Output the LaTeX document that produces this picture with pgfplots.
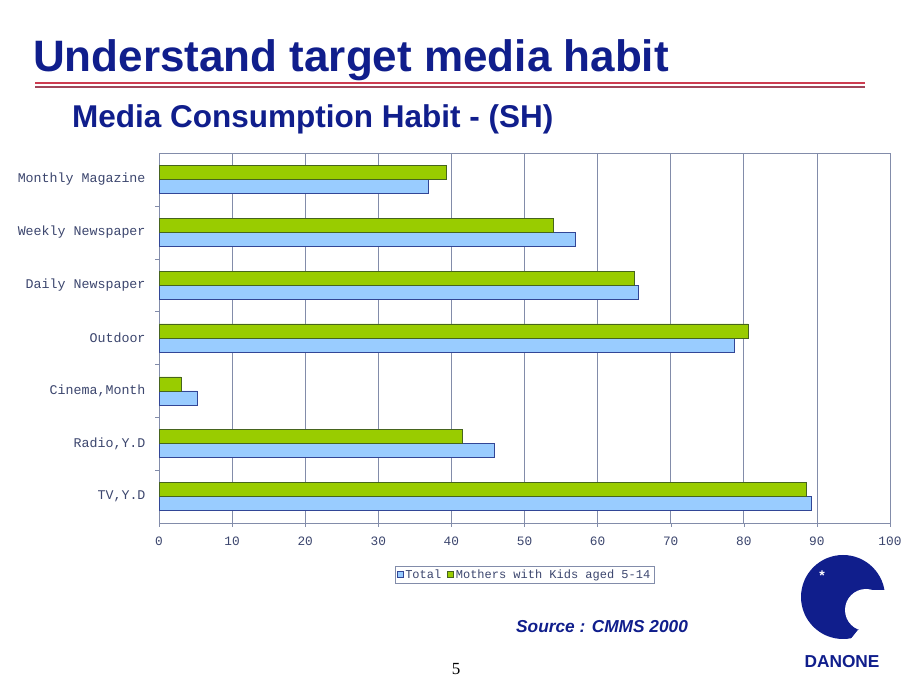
\documentclass[border=0pt]{standalone}
\usepackage{pgfplots}
\pgfplotsset{compat=1.18}
\usepackage{fontspec}
\setmainfont{Liberation Sans}
\newfontfamily\monof{Liberation Mono}
\newfontfamily\seriff{Liberation Serif}
\definecolor{navy}{RGB}{16,30,140}
\definecolor{gridc}{RGB}{130,140,170}
\definecolor{labc}{RGB}{60,70,110}
\definecolor{bluef}{RGB}{153,204,255}
\definecolor{bluee}{RGB}{50,70,150}
\definecolor{greenf}{RGB}{153,204,0}
\definecolor{greene}{RGB}{70,100,30}
\definecolor{redl}{RGB}{205,60,80}
\definecolor{redd}{RGB}{160,70,90}
\begin{document}
\begin{tikzpicture}[x=1pt,y=1pt]
\useasboundingbox (0,0) rectangle (920,690);
\fill[white] (0,0) rectangle (920,690);
% titles
\node[anchor=base west, inner sep=0pt, text=navy, font=\bfseries\fontsize{44}{44}\selectfont] at (33,618) {Understand target media habit};
\draw[redl, line width=1.3pt] (35,607) -- (865,607);
\draw[redd, line width=1.3pt] (35,603) -- (865,603);
\node[anchor=base west, inner sep=0pt, text=navy, font=\bfseries\fontsize{31.5}{32}\selectfont] at (72,562) {Media Consumption Habit - (SH)};
\begin{axis}[
  at={(159pt,167pt)}, anchor=south west,
  width=731pt, height=370pt, scale only axis,
  xmin=0, xmax=100, ymin=-0.5, ymax=6.5,
  xtick={0,10,...,100},
  ytick={0,...,6},
  yticklabels={{TV,Y.D},{Radio,Y.D},{Cinema,Month},{Outdoor},{Daily Newspaper},{Weekly Newspaper},{Monthly Magazine}},
  minor ytick={0.5,1.5,...,5.5},
  tick pos=left,
  every major y tick/.append style={draw=none},
  every minor y tick/.append style={gridc, thin},
  every major x tick/.append style={gridc, thin},
  minor tick length=4pt, major tick length=4pt,
  tick align=outside,
  xmajorgrids,
  grid style={gridc, line width=0.8pt},
  axis line style={gridc, line width=0.8pt},
  /pgf/number format/assume math mode=true,
  xticklabel style={font=\monof\fontsize{12.8}{13}\selectfont, text=labc, yshift=-6pt},
  yticklabel style={font=\monof\fontsize{13.3}{14}\selectfont, text=labc, xshift=-6pt},
  xbar, bar width=14pt,
  legend columns=2,
  legend style={at={(0.5,-0.14)}, anchor=center, draw=gridc, line width=0.6pt,
    font=\monof\fontsize{12}{12}\selectfont, text=labc, inner sep=1.5pt,
    /tikz/every even column/.append style={column sep=4pt}},
  legend image code/.code={\draw[#1] (0pt,-3pt) rectangle (6pt,3pt);},
]
\addplot[xbar, bar shift=-7pt, fill=bluef, draw=bluee, line width=0.6pt]
  coordinates {(89.3,0) (45.8,1) (5.2,2) (78.7,3) (65.5,4) (57.0,5) (36.9,6)};
\addplot[xbar, bar shift=7pt, fill=greenf, draw=greene, line width=0.6pt]
  coordinates {(88.6,0) (41.5,1) (3.0,2) (80.6,3) (65.0,4) (54.0,5) (39.3,6)};
\legend{Total, Mothers with Kids aged 5-14}
\end{axis}
% source and page number
\node[anchor=base west, inner sep=0pt, text=navy, font=\bfseries\itshape\fontsize{17.3}{18}\selectfont] at (516,57) {Source : CMMS 2000};
\node[anchor=base, inner sep=0pt, font=\seriff\fontsize{17}{17}\selectfont] at (456,15) {5};
% logo
\fill[navy] (843,93) circle (42);
\fill[white] (866,80) circle (21);
\fill[white] (868,56) rectangle (890,100);
\fill[white] (850,50) -- (890,50) -- (890,60) -- (858,60) -- cycle;
\node[text=white, font=\bfseries\fontsize{14}{14}\selectfont, inner sep=0pt] at (822,114) {*};
\node[anchor=base, inner sep=0pt, text=navy, font=\bfseries\fontsize{17.3}{18}\selectfont] at (842,22) {DANONE};
\end{tikzpicture}
\end{document}
